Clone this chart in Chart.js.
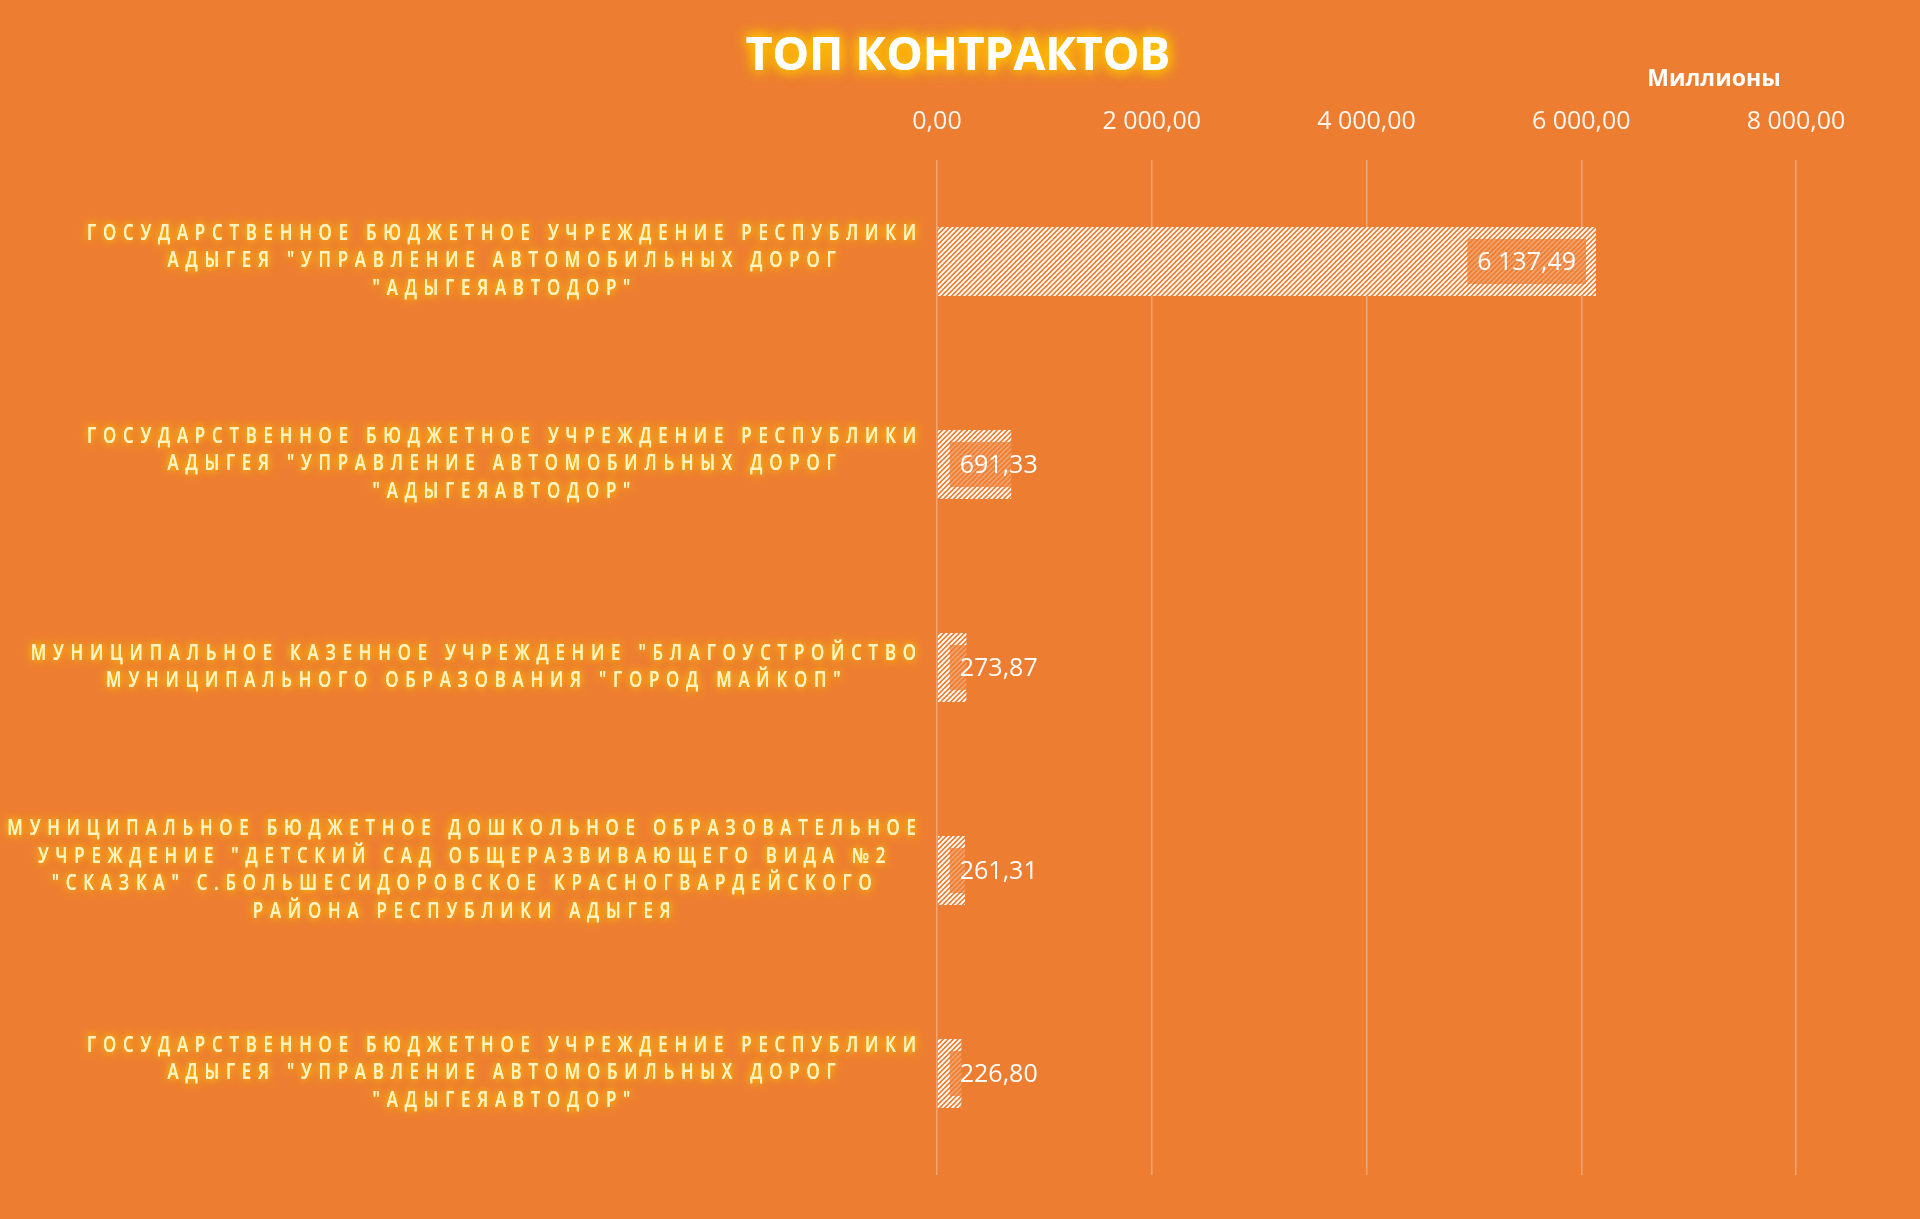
<!DOCTYPE html>
<html><head><meta charset="utf-8">
<script src="https://cdn.jsdelivr.net/npm/chart.js@4.4.0/dist/chart.umd.min.js"></script>
<style>html,body{margin:0;padding:0;background:#ED7D31;overflow:hidden}#wrap{width:1920px;height:1219px}</style>
</head><body><div id="wrap"><canvas id="c" width="1920" height="1219"></canvas></div>
<script>
const chartTitle = "ТОП КОНТРАКТОВ";
const unitLabel = "Миллионы";
const categories = [
  ["ГОСУДАРСТВЕННОЕ БЮДЖЕТНОЕ УЧРЕЖДЕНИЕ РЕСПУБЛИКИ", "АДЫГЕЯ \"УПРАВЛЕНИЕ АВТОМОБИЛЬНЫХ ДОРОГ", "\"АДЫГЕЯАВТОДОР\""],
  ["ГОСУДАРСТВЕННОЕ БЮДЖЕТНОЕ УЧРЕЖДЕНИЕ РЕСПУБЛИКИ", "АДЫГЕЯ \"УПРАВЛЕНИЕ АВТОМОБИЛЬНЫХ ДОРОГ", "\"АДЫГЕЯАВТОДОР\""],
  ["МУНИЦИПАЛЬНОЕ КАЗЕННОЕ УЧРЕЖДЕНИЕ \"БЛАГОУСТРОЙСТВО", "МУНИЦИПАЛЬНОГО ОБРАЗОВАНИЯ \"ГОРОД МАЙКОП\""],
  ["МУНИЦИПАЛЬНОЕ БЮДЖЕТНОЕ ДОШКОЛЬНОЕ ОБРАЗОВАТЕЛЬНОЕ", "УЧРЕЖДЕНИЕ \"ДЕТСКИЙ САД ОБЩЕРАЗВИВАЮЩЕГО ВИДА №2", "\"СКАЗКА\" С.БОЛЬШЕСИДОРОВСКОЕ КРАСНОГВАРДЕЙСКОГО", "РАЙОНА РЕСПУБЛИКИ АДЫГЕЯ"],
  ["ГОСУДАРСТВЕННОЕ БЮДЖЕТНОЕ УЧРЕЖДЕНИЕ РЕСПУБЛИКИ", "АДЫГЕЯ \"УПРАВЛЕНИЕ АВТОМОБИЛЬНЫХ ДОРОГ", "\"АДЫГЕЯАВТОДОР\""]
];
const values = [6137.49, 691.33, 273.87, 261.31, 226.80];
const tickValues = [0, 2000, 4000, 6000, 8000];

const BG = '#ED7D31';
function fmt(v) {
  const s = Number(v).toFixed(2).split('.');
  return s[0].replace(/\B(?=(\d{3})+(?!\d))/g, ' ') + ',' + s[1];
}
const canvas = document.getElementById('c');
const ctx = canvas.getContext('2d');
function makeHatch() {
  const t = document.createElement('canvas');
  t.width = t.height = 5;
  const x = t.getContext('2d');
  x.fillStyle = BG; x.fillRect(0, 0, 5, 5);
  x.strokeStyle = '#ffffff'; x.lineWidth = 1.9;
  x.beginPath();
  x.moveTo(-1, 6); x.lineTo(6, -1);
  x.moveTo(-1, 1); x.lineTo(1, -1);
  x.moveTo(4, 6); x.lineTo(6, 4);
  x.stroke();
  return ctx.createPattern(t, 'repeat');
}

const SX = 0.8; // horizontal condensing of category label glyphs
function spacedWidth(c, text, ls) {
  let w = 0;
  for (const ch of text) w += c.measureText(ch).width * SX;
  return w + ls * (Array.from(text).length - 1);
}
function drawSpaced(c, text, xLeft, y, ls) {
  let x = xLeft;
  for (const ch of text) {
    c.save(); c.translate(x, y); c.scale(SX, 1); c.fillText(ch, 0, 0); c.restore();
    x += c.measureText(ch).width * SX + ls;
  }
}

const decor = {
  id: 'decor',
  beforeDraw(chart) {
    const c = chart.ctx;
    c.save(); c.fillStyle = BG; c.fillRect(0, 0, chart.width, chart.height); c.restore();
  },
  afterDatasetsDraw(chart) {
    const c = chart.ctx;
    const meta = chart.getDatasetMeta(0);
    c.save();
    c.font = '25px "Open Sans"';
    c.textBaseline = 'middle';
    meta.data.forEach((bar, i) => {
      const txt = fmt(values[i]);
      const w = c.measureText(txt).width;
      const bw = w + 20, bh = 45;
      const x0 = Math.max(bar.base + 12, bar.x - 10 - bw);
      c.fillStyle = 'rgba(237,125,49,0.72)';
      c.fillRect(x0, bar.y - bh / 2, bw, bh);
      c.fillStyle = '#ffffff';
      c.textAlign = 'left';
      c.fillText(txt, x0 + 10, bar.y + 1);
    });
    c.restore();
  },
  afterDraw(chart) {
    const c = chart.ctx;
    // title
    c.save();
    c.font = 'bold 46px "Open Sans"';
    c.textAlign = 'center'; c.textBaseline = 'middle';
    c.shadowColor = '#FFC000'; c.shadowBlur = 14;
    c.fillStyle = '#FFFFFF';
    for (let k = 0; k < 3; k++) c.fillText(chartTitle, 958, 57);
    c.restore();
    // unit label
    c.save();
    c.font = 'bold 23px "Open Sans"';
    c.textAlign = 'center'; c.textBaseline = 'middle';
    c.fillStyle = '#FFFFFF';
    c.fillText(unitLabel, 1714, 79);
    c.restore();
    // category labels
    const ys = chart.scales.y;
    const ls = 6.8, lineH = 27.8, right = 916;
    c.save();
    c.font = '600 21px "Open Sans"';
    c.textBaseline = 'middle'; c.textAlign = 'left';
    categories.forEach((lines, i) => {
      const yc = ys.getPixelForValue(i);
      const widths = lines.map(l => spacedWidth(c, l, ls));
      const maxW = Math.max(...widths);
      const cx = right - maxW / 2;
      lines.forEach((l, j) => {
        const y = yc + (j - (lines.length - 1) / 2) * lineH;
        const xl = cx - widths[j] / 2;
        c.shadowColor = '#FFC000'; c.shadowBlur = 8;
        c.fillStyle = '#FFF3C4';
        drawSpaced(c, l, xl, y, ls);
        drawSpaced(c, l, xl, y, ls);
      });
    });
    c.restore();
  }
};

new Chart(ctx, {
  type: 'bar',
  data: {
    labels: categories,
    datasets: [{
      data: values,
      backgroundColor: makeHatch(),
      borderWidth: 0,
      categoryPercentage: 1,
      barPercentage: 0.34
    }]
  },
  options: {
    indexAxis: 'y',
    responsive: false,
    animation: false,
    devicePixelRatio: 1,
    layout: { padding: { top: 60, right: 124, bottom: 44, left: 0 } },
    plugins: { legend: { display: false }, tooltip: { enabled: false }, title: { display: false } },
    scales: {
      x: {
        position: 'top', min: 0, max: 8000,
        afterBuildTicks: s => { s.ticks = tickValues.map(v => ({ value: v })); },
        ticks: { color: 'rgba(255,255,255,0.92)', font: { family: 'Open Sans', size: 25 }, padding: 23, callback: v => fmt(v), maxRotation: 0 },
        grid: { color: 'rgba(255,255,255,0.32)', lineWidth: 1.5, drawTicks: false },
        border: { display: false },
        afterFit: s => { s.height = 100; }
      },
      y: {
        ticks: { display: false },
        grid: { display: false },
        border: { display: false },
        afterFit: s => { s.width = 937; }
      }
    }
  },
  plugins: [decor]
});
</script></body></html>
